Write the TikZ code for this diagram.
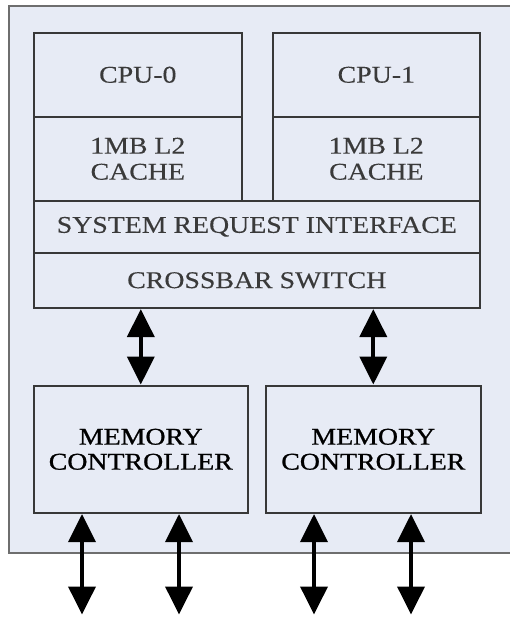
\documentclass[tikz,border=0pt]{standalone}
\usepackage{fontspec}
\setmainfont[FakeStretch=1.16,FakeBold=0.3]{Liberation Serif}
\newfontfamily\mcfont[FakeStretch=1.16,FakeBold=0.9]{Liberation Serif}
\usepackage{tikz}
\usetikzlibrary{arrows.meta}

\definecolor{chipfill}{HTML}{E7EBF5}
\definecolor{chipedge}{HTML}{6E6E6E}
\definecolor{boxedge}{HTML}{383838}
\definecolor{boxtext}{HTML}{3A3A3A}

\tikzset{
  unit/.style={draw=boxedge,line width=1.6pt,fill=chipfill,rectangle,anchor=north west,
    inner sep=0pt,text=boxtext,align=center,
    font=\fontsize{24}{26}\selectfont},
  bus/.style={line width=3.8pt,{Triangle[width=27pt,length=28pt]}-{Triangle[width=27pt,length=28pt]},shorten <=0.5pt,shorten >=0.5pt}
}

\begin{document}
\begin{tikzpicture}[x=1pt,y=-1pt]
            \useasboundingbox (0,0) rectangle (510,617);
            \fill[white] (0,0) rectangle (510,617);
            % chip outline
            \fill[chipfill] (9,6) rectangle (510,553);
            \draw[chipedge,line width=2.6pt] (510,6) -- (9,6) -- (9,553) -- (510,553);
            % cpus and caches
            \node[unit,minimum width=208pt,minimum height=84pt] (cpuA) at (33,32) {CPU-0};
            \node[unit,minimum width=207pt,minimum height=84pt] (cpuB) at (272,32) {CPU-1};
            \node[unit,minimum width=208pt,minimum height=84pt] (cacheA) at (33,116) {1MB L2\\CACHE};
            \node[unit,minimum width=207pt,minimum height=84pt] (cacheB) at (272,116) {1MB L2\\CACHE};
            \node[unit,minimum width=446pt,minimum height=52pt] (sri) at (33,200) {SYSTEM REQUEST INTERFACE};
            \node[unit,minimum width=446pt,minimum height=55pt] (xbar) at (33,252) {CROSSBAR SWITCH};
            % memory controllers
            \node[unit,minimum width=214pt,minimum height=127pt,text=black,font=\mcfont\fontsize{24}{25}\selectfont] (mcA) at (33,385) {MEMORY\\CONTROLLER};
            \node[unit,minimum width=215pt,minimum height=127pt,text=black,font=\mcfont\fontsize{24}{25}\selectfont] (mcB) at (265,385) {MEMORY\\CONTROLLER};
            \draw[bus] (xbar.south -| mcA.north) -- (mcA.north);
            \draw[bus] (xbar.south -| mcB.north) -- (mcB.north);
            % memory channels
            \coordinate (chA) at (82,615);
            \coordinate (chB) at (179,615);
            \coordinate (chC) at (314,615);
            \coordinate (chD) at (411,615);
            \draw[bus] (chA |- mcA.south) -- (chA);
            \draw[bus] (chB |- mcA.south) -- (chB);
            \draw[bus] (chC |- mcB.south) -- (chC);
            \draw[bus] (chD |- mcB.south) -- (chD);
        \end{tikzpicture}
\end{document}
